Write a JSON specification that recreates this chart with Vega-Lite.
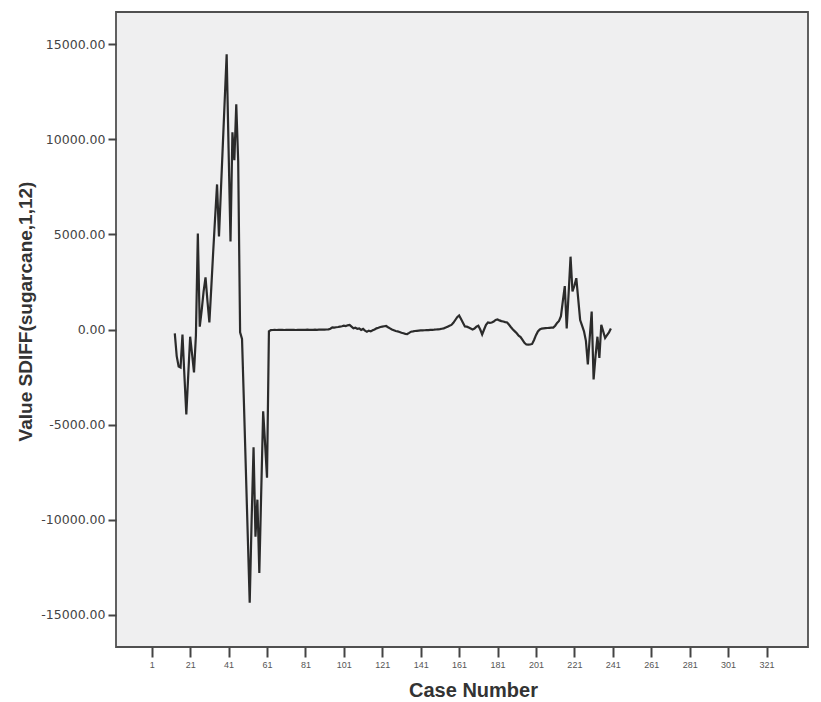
{
  "$schema": "https://vega.github.io/schema/vega-lite/v6.json",
  "width": 692,
  "height": 635,
  "autosize": {"type": "none"},
  "padding": {"left": 116, "top": 12, "right": 13, "bottom": 55},
  "background": "#ffffff",
  "config": {
    "view": {"fill": "#efeff0", "stroke": "#505050", "strokeWidth": 1.8},
    "font": "Liberation Sans"
  },
  "data": {"values": [
    {"case": 13, "value": -200}, {"case": 14, "value": -1400}, {"case": 15, "value": -1950}, {"case": 16, "value": -2000},
    {"case": 17, "value": -260}, {"case": 18, "value": -2400}, {"case": 19, "value": -4470}, {"case": 20, "value": -2400},
    {"case": 21, "value": -380}, {"case": 22, "value": -1300}, {"case": 23, "value": -2260}, {"case": 24, "value": -300},
    {"case": 25, "value": 5050}, {"case": 26, "value": 150}, {"case": 27, "value": 1000}, {"case": 28, "value": 2000},
    {"case": 29, "value": 2740}, {"case": 30, "value": 1500}, {"case": 31, "value": 370}, {"case": 32, "value": 2200},
    {"case": 33, "value": 4100}, {"case": 34, "value": 5900}, {"case": 35, "value": 7630}, {"case": 36, "value": 4900},
    {"case": 37, "value": 7300}, {"case": 38, "value": 9700}, {"case": 39, "value": 12100}, {"case": 40, "value": 14470},
    {"case": 41, "value": 9500}, {"case": 42, "value": 4630}, {"case": 43, "value": 10370}, {"case": 44, "value": 8900},
    {"case": 45, "value": 11840}, {"case": 46, "value": 8860}, {"case": 47, "value": -150}, {"case": 48, "value": -500},
    {"case": 49, "value": -3900}, {"case": 50, "value": -7400}, {"case": 51, "value": -10900}, {"case": 52, "value": -14370},
    {"case": 53, "value": -10000}, {"case": 54, "value": -6200}, {"case": 55, "value": -10900}, {"case": 56, "value": -8950},
    {"case": 57, "value": -12800}, {"case": 58, "value": -8500}, {"case": 59, "value": -4300}, {"case": 60, "value": -6000},
    {"case": 61, "value": -7800}, {"case": 62, "value": -100}, {"case": 63, "value": -30}, {"case": 64, "value": -25},
    {"case": 65, "value": -20}, {"case": 66, "value": -25}, {"case": 67, "value": -20}, {"case": 68, "value": -15},
    {"case": 69, "value": -20}, {"case": 70, "value": -25}, {"case": 71, "value": -20}, {"case": 72, "value": -20},
    {"case": 73, "value": -15}, {"case": 74, "value": -20}, {"case": 75, "value": -20}, {"case": 76, "value": -25},
    {"case": 77, "value": -20}, {"case": 78, "value": -15}, {"case": 79, "value": -20}, {"case": 80, "value": -20},
    {"case": 81, "value": -15}, {"case": 82, "value": -10}, {"case": 83, "value": -15}, {"case": 84, "value": -20},
    {"case": 85, "value": -15}, {"case": 86, "value": -10}, {"case": 87, "value": -15}, {"case": 88, "value": -10},
    {"case": 89, "value": -5}, {"case": 90, "value": -10}, {"case": 91, "value": -5}, {"case": 92, "value": 0},
    {"case": 93, "value": 10}, {"case": 94, "value": 40}, {"case": 95, "value": 115}, {"case": 96, "value": 100},
    {"case": 97, "value": 120}, {"case": 98, "value": 130}, {"case": 99, "value": 150}, {"case": 100, "value": 170},
    {"case": 101, "value": 200}, {"case": 102, "value": 180}, {"case": 103, "value": 220}, {"case": 104, "value": 240},
    {"case": 105, "value": 150}, {"case": 106, "value": 60}, {"case": 107, "value": 90}, {"case": 108, "value": 40},
    {"case": 109, "value": 60}, {"case": 110, "value": -20}, {"case": 111, "value": 30}, {"case": 112, "value": -60},
    {"case": 113, "value": -115}, {"case": 114, "value": -60}, {"case": 115, "value": -100}, {"case": 116, "value": -40},
    {"case": 117, "value": 0}, {"case": 118, "value": 60}, {"case": 119, "value": 90}, {"case": 120, "value": 130},
    {"case": 121, "value": 150}, {"case": 122, "value": 170}, {"case": 123, "value": 185}, {"case": 124, "value": 120},
    {"case": 125, "value": 60}, {"case": 126, "value": 0}, {"case": 127, "value": -40}, {"case": 128, "value": -80},
    {"case": 129, "value": -100}, {"case": 130, "value": -130}, {"case": 131, "value": -170}, {"case": 132, "value": -200},
    {"case": 133, "value": -230}, {"case": 134, "value": -240}, {"case": 135, "value": -180}, {"case": 136, "value": -115},
    {"case": 137, "value": -100}, {"case": 138, "value": -80}, {"case": 139, "value": -70}, {"case": 140, "value": -60},
    {"case": 141, "value": -50}, {"case": 142, "value": -45}, {"case": 143, "value": -40}, {"case": 144, "value": -35},
    {"case": 145, "value": -30}, {"case": 146, "value": -20}, {"case": 147, "value": -15}, {"case": 148, "value": -10},
    {"case": 149, "value": 0}, {"case": 150, "value": 10}, {"case": 151, "value": 20}, {"case": 152, "value": 40},
    {"case": 153, "value": 60}, {"case": 154, "value": 100}, {"case": 155, "value": 150}, {"case": 156, "value": 200},
    {"case": 157, "value": 240}, {"case": 158, "value": 350}, {"case": 159, "value": 500}, {"case": 160, "value": 650},
    {"case": 161, "value": 740}, {"case": 162, "value": 550}, {"case": 163, "value": 350}, {"case": 164, "value": 160},
    {"case": 165, "value": 150}, {"case": 166, "value": 100}, {"case": 167, "value": 50}, {"case": 168, "value": 0},
    {"case": 169, "value": 50}, {"case": 170, "value": 150}, {"case": 171, "value": 200}, {"case": 172, "value": 0},
    {"case": 173, "value": -260}, {"case": 174, "value": 0}, {"case": 175, "value": 250}, {"case": 176, "value": 370},
    {"case": 177, "value": 350}, {"case": 178, "value": 370}, {"case": 179, "value": 420}, {"case": 180, "value": 500},
    {"case": 181, "value": 530}, {"case": 182, "value": 480}, {"case": 183, "value": 440}, {"case": 184, "value": 420},
    {"case": 185, "value": 390}, {"case": 186, "value": 370}, {"case": 187, "value": 250}, {"case": 188, "value": 120},
    {"case": 189, "value": 0}, {"case": 190, "value": -100}, {"case": 191, "value": -200}, {"case": 192, "value": -330},
    {"case": 193, "value": -400}, {"case": 194, "value": -550}, {"case": 195, "value": -700}, {"case": 196, "value": -790},
    {"case": 197, "value": -800}, {"case": 198, "value": -790}, {"case": 199, "value": -760}, {"case": 200, "value": -550},
    {"case": 201, "value": -300}, {"case": 202, "value": -100}, {"case": 203, "value": 0}, {"case": 204, "value": 50},
    {"case": 205, "value": 60}, {"case": 206, "value": 70}, {"case": 207, "value": 80}, {"case": 208, "value": 90},
    {"case": 209, "value": 100}, {"case": 210, "value": 100}, {"case": 211, "value": 200}, {"case": 212, "value": 350},
    {"case": 213, "value": 450}, {"case": 214, "value": 700}, {"case": 215, "value": 1500}, {"case": 216, "value": 2280},
    {"case": 217, "value": 60}, {"case": 218, "value": 1900}, {"case": 219, "value": 3830}, {"case": 220, "value": 2000},
    {"case": 221, "value": 2300}, {"case": 222, "value": 2700}, {"case": 223, "value": 1600}, {"case": 224, "value": 500},
    {"case": 225, "value": 200}, {"case": 226, "value": -100}, {"case": 227, "value": -600}, {"case": 228, "value": -1840},
    {"case": 229, "value": -400}, {"case": 230, "value": 940}, {"case": 231, "value": -2630}, {"case": 232, "value": -1400},
    {"case": 233, "value": -380}, {"case": 234, "value": -1500}, {"case": 235, "value": 240}, {"case": 236, "value": -100},
    {"case": 237, "value": -450}, {"case": 238, "value": -300}, {"case": 239, "value": -150}, {"case": 240, "value": 50}
  ]},
  "mark": {"type": "line", "color": "#2b2b2b", "strokeWidth": 2.2, "clip": true},
  "encoding": {
    "x": {
      "field": "case", "type": "quantitative",
      "scale": {"domain": [-17.6, 342.6], "nice": false, "zero": false},
      "axis": {
        "title": "Case Number",
        "values": [1, 21, 41, 61, 81, 101, 121, 141, 161, 181, 201, 221, 241, 261, 281, 301, 321],
        "domain": false, "grid": false,
        "tickSize": 10, "tickWidth": 2, "tickColor": "#444444",
        "labelFontSize": 9, "labelColor": "#555555", "labelPadding": 3,
        "titleFontSize": 20, "titleFontWeight": "bold", "titleColor": "#333333",
        "titleX": 357, "titleY": 33, "titleBaseline": "top"
      }
    },
    "y": {
      "field": "value", "type": "quantitative",
      "scale": {"domain": [-16700, 16700], "nice": false, "zero": false},
      "axis": {
        "title": "Value SDIFF(sugarcane,1,12)",
        "values": [-15000, -10000, -5000, 0, 5000, 10000, 15000],
        "format": ".2f",
        "labelExpr": "replace(datum.label, '\u2212', '-')",
        "domain": false, "grid": false,
        "tickSize": 8, "tickWidth": 2, "tickColor": "#444444",
        "labelFont": "DejaVu Sans", "labelFontSize": 12.5, "labelColor": "#444444", "labelPadding": 3,
        "titleFontSize": 19, "titleFontWeight": "bold", "titleColor": "#333333",
        "titleX": -81, "titleY": 299, "titleBaseline": "bottom"
      }
    }
  }
}
